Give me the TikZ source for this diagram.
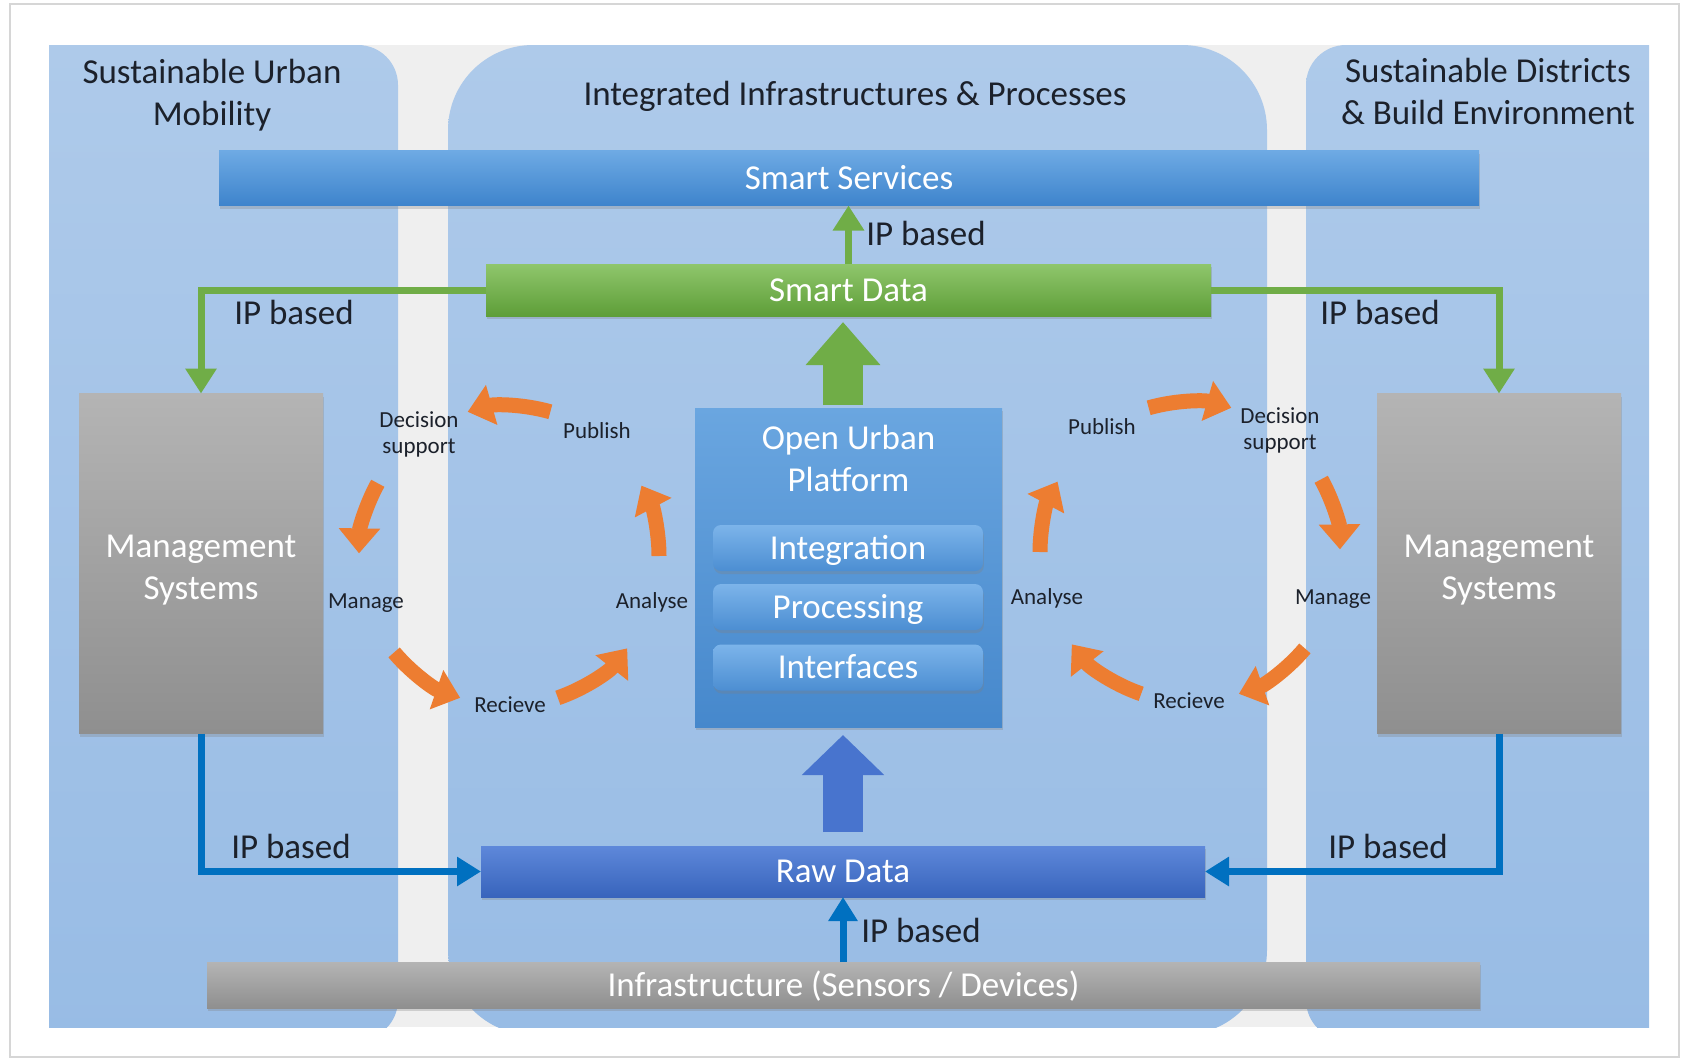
\documentclass[tikz,border=0pt]{standalone}
\usepackage{fontspec}
\setmainfont{Carlito}
\usetikzlibrary{arrows.meta,shadows,calc}

\definecolor{panelTop}{RGB}{174,202,234}
\definecolor{panelBot}{RGB}{152,188,229}
\definecolor{gapGray}{RGB}{239,239,239}
\definecolor{frameGray}{RGB}{214,214,214}
\definecolor{svcTop}{RGB}{110,170,228}
\definecolor{svcBot}{RGB}{62,132,204}
\definecolor{dataTop}{RGB}{143,198,108}
\definecolor{dataBot}{RGB}{94,158,56}
\definecolor{rawTop}{RGB}{94,136,218}
\definecolor{rawBot}{RGB}{56,100,188}
\definecolor{grayTop}{RGB}{180,180,180}
\definecolor{grayBot}{RGB}{143,143,143}
\definecolor{oupTop}{RGB}{106,166,224}
\definecolor{oupBot}{RGB}{70,136,204}
\definecolor{layTop}{RGB}{124,180,234}
\definecolor{layBot}{RGB}{76,142,210}
\definecolor{lineBlue}{RGB}{0,112,192}
\definecolor{lineGreen}{RGB}{112,173,71}
\definecolor{blockBlue}{RGB}{72,116,206}
\definecolor{cycOrange}{RGB}{237,125,49}
\definecolor{txtDark}{RGB}{28,33,43}

\newcommand{\bigFont}{\fontsize{35}{42}\selectfont}
\newcommand{\smallFont}{\fontsize{23}{26}\selectfont}

\tikzset{
  column/.style={top color=panelTop, bottom color=panelBot},
  softShadow/.style={drop shadow={opacity=0.3, shadow xshift=0.8pt, shadow yshift=-3pt}},
  barBox/.style={rectangle, inner sep=0pt, outer sep=0pt, text=white, font=\bigFont,
    text height=24pt, text depth=1.5pt, softShadow},
  svcBar/.style={barBox, top color=svcTop, bottom color=svcBot},
  dataBar/.style={barBox, top color=dataTop, bottom color=dataBot},
  rawBar/.style={barBox, top color=rawTop, bottom color=rawBot},
  grayBar/.style={barBox, top color=grayTop, bottom color=grayBot},
  mgmtBox/.style={rectangle, inner sep=0pt, outer sep=0pt, minimum width=244pt,
    minimum height=340pt, top color=grayTop, bottom color=grayBot, text=white,
    font=\bigFont, align=center, softShadow},
  platBox/.style={rectangle, inner sep=0pt, outer sep=0pt, minimum width=307pt,
    minimum height=319pt, top color=oupTop, bottom color=oupBot, softShadow},
  platTitle/.style={inner sep=0pt, text=white, font=\bigFont, align=center},
  layerBox/.style={barBox, rounded corners=8pt, minimum width=270pt, minimum height=46pt,
    top color=layTop, bottom color=layBot},
  headText/.style={inner sep=0pt, text=txtDark, font=\bigFont, align=center},
  ipText/.style={inner sep=0pt, text=txtDark, font=\bigFont, text height=24pt, text depth=1.5pt},
  cycText/.style={inner sep=0pt, text=txtDark, font=\smallFont, text height=16pt, text depth=1.2pt},
  greenLink/.style={draw=lineGreen, line width=7pt, -{Triangle[width=30pt,length=25pt]}},
  blueLink/.style={draw=lineBlue, line width=7pt, -{Triangle[width=28pt,length=24pt]}},
  greenBlock/.style={draw=lineGreen, line width=40pt, -{Triangle[width=72pt,length=43pt]}},
  blueBlock/.style={draw=blockBlue, line width=40pt, -{Triangle[width=80pt,length=40pt]}},
  cycArrow/.style={draw=cycOrange, line width=15pt, -{Triangle[width=40pt,length=25pt]}}
}

% one cycle: center, mirror (1 or -1), name prefix
\newcommand{\myCycle}[3]{
\begin{scope}[shift={(#1)}, xscale=#2]
  \coordinate (#3-c) at (0,0);
  \foreach \a/\b in {-74/-106, -151/-179, -220/-251, -289/-322, 0/-28}
    \draw[cycArrow] (\a:150) arc[start angle=\a, end angle=\b, radius=150];
  \node[cycText] (#3-pub) at (88,-125) {Publish};
  \node[inner sep=0pt, text=txtDark, font=\smallFont, align=center] (#3-dec) at (-90,-122) {Decision\\support};
  \node[cycText] (#3-man) at (-143,45) {Manage};
  \node[cycText] (#3-rec) at (1,149) {Recieve};
  \node[cycText] (#3-ana) at (143,45) {Analyse};
\end{scope}
}

\begin{document}
\begin{tikzpicture}[x=1pt, y=-1pt]
\useasboundingbox (0,0) rectangle (1682,1061);
% page frame
\draw[frameGray, line width=2.5pt] (10,4) rectangle (1679,1057);
% background columns
\fill[gapGray] (49,45) rectangle (1649,1027);
\begin{scope}
  \clip (49,45) rectangle (1649,1027);
  \shade[column, rounded corners=40pt] (0,45) rectangle (398,1040);
  \shade[column, rounded corners=85pt] (448,45) rectangle (1267,1035);
  \shade[column, rounded corners=40pt] (1306,45) rectangle (1700,1040);
\end{scope}

% headings
\node[headText] (hMob) at (212,95) {Sustainable Urban\\Mobility};
\node[ipText] (hInt) at (855,94) {Integrated Infrastructures \& Processes};
\node[headText] (hDist) at (1488,91.5) {Sustainable Districts\\\& Build Environment};

% bars
\node[svcBar, minimum width=1260pt, minimum height=55pt] (sserv) at (849,178) {Smart Services};
\node[dataBar, minimum width=725pt, minimum height=52pt] (sdata) at (848.5,290) {Smart Data};
\node[rawBar, minimum width=724pt, minimum height=51pt] (rawd) at (843,871.5) {Raw Data};
\node[grayBar, minimum width=1273pt, minimum height=46pt] (infra) at (843.5,985) {Infrastructure (Sensors / Devices)};

% management systems
\node[mgmtBox] (msL) at (201,563.5) {\rule{0pt}{35pt}Management\\Systems};
\node[mgmtBox] (msR) at (1499,563.5) {\rule{0pt}{35pt}Management\\Systems};

% open urban platform
\node[platBox] (oup) at (848.5,567.5) {};
\node[platTitle] (oupT) at (848.5,458.5) {Open Urban\\Platform};
\node[layerBox] (lInt) at (848,548) {Integration};
\node[layerBox] (lPro) at (848,607) {Processing};
\node[layerBox] (lIfc) at (848,667.5) {Interfaces};

% block arrows
\draw[greenBlock, shorten <=3pt, shorten >=6pt] (oup.north -| rawd.north) -- (sdata.south -| rawd.north);
\draw[blueBlock, shorten <=14pt, shorten >=8pt] (rawd.north) -- (oup.south -| rawd.north);

% IP based links
\draw[greenLink] (sdata.north) -- (sdata.north |- sserv.south);
\draw[greenLink] (sdata.west) -| (msL.north);
\draw[greenLink] (sdata.east) -| (msR.north);
\draw[blueLink] (msL.south) |- (rawd.west);
\draw[blueLink] (msR.south) |- (rawd.east);
\draw[blueLink] (rawd.south |- infra.north) -- (rawd.south);

\node[ipText] (ipTop) at (926,234) {IP based};
\node[ipText] (ipL) at (294,313) {IP based};
\node[ipText] (ipR) at (1380,313) {IP based};
\node[ipText] (ipBL) at (291,847) {IP based};
\node[ipText] (ipBR) at (1388,847) {IP based};
\node[ipText] (ipInf) at (921,931) {IP based};

% cycles
\myCycle{509,556}{1}{cl}
\myCycle{1190,552}{-1}{cr}
\end{tikzpicture}
\end{document}
